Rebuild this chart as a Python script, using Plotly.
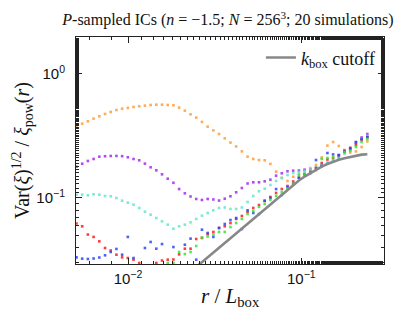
import plotly.graph_objects as go

# r / L_box grid (bin centres)
r = [0.005045, 0.005441, 0.005868, 0.006333, 0.006832, 0.007369, 0.007948, 0.008575,
     0.009250, 0.009977, 0.010761, 0.011608, 0.012521, 0.013506, 0.014568, 0.015714,
     0.016950, 0.018283, 0.019722, 0.021281, 0.022956, 0.024760, 0.026711, 0.028814,
     0.031080, 0.033520, 0.036160, 0.039010, 0.042080, 0.045390, 0.048960, 0.052820,
     0.056980, 0.061460, 0.066300, 0.071520, 0.077150, 0.083220, 0.089770, 0.096830,
     0.104450, 0.112670, 0.121540, 0.131100, 0.141420, 0.152550, 0.164550, 0.177500,
     0.191470, 0.206540, 0.222790, 0.240330]

orange = [0.375, 0.396, 0.414, 0.435, 0.454, 0.474, 0.492, 0.510, 0.523, 0.530,
          0.540, 0.547, 0.553, 0.560, 0.563, 0.563, 0.560, 0.557, 0.533, 0.504,
          0.471, 0.443, 0.409, 0.375, 0.350, 0.327, 0.302, 0.279, 0.260, 0.237,
          0.215, 0.206, 0.202, 0.201, 0.188, 0.163, 0.145, 0.137, 0.148, 0.156,
          0.165, 0.174, 0.184, 0.212, 0.264, 0.282, 0.262, 0.243, 0.232, 0.237,
          0.257, 0.285]

purple = [0.1786, 0.1887, 0.1985, 0.206, 0.215, 0.2166, 0.2178, 0.218, 0.217, 0.2126,
          0.206, 0.201, 0.189, 0.1766, 0.167, 0.155, 0.143, 0.1325, 0.118, 0.109,
          0.1028, 0.0982, 0.0964, 0.0982, 0.0973, 0.0954, 0.0987, 0.1032, 0.1111, 0.1203,
          0.1308, 0.1337, 0.1337, 0.1362, 0.1404, 0.1512, 0.158, 0.164, 0.1658, 0.1664,
          0.169, 0.1695, 0.174, 0.181, 0.191, 0.1985, 0.218, 0.239, 0.2526, 0.2796,
          0.3067, 0.327]

cyan = [0.1063, 0.1063, 0.1051, 0.1071, 0.1063, 0.1037, 0.1032, 0.100, 0.0951, 0.0917,
        0.0883, 0.0831, 0.0776, 0.0734, 0.0690, 0.0649, 0.0610, 0.0566, 0.0592, 0.0610,
        0.0637, 0.0678, 0.0721, 0.0757, 0.0796, 0.0831, 0.0839, 0.0816, 0.0816, 0.0839,
        0.0929, 0.1037, 0.1132, 0.1188, 0.1272, 0.137, 0.145, 0.1531, 0.159, 0.162,
        0.165, 0.1695, 0.1776, 0.184, 0.193, 0.202, 0.212, 0.226, 0.243, 0.264,
        0.298, 0.315]

red = [0.0623, 0.0592, 0.0508, 0.0486, 0.0448, 0.0396, 0.0378, 0.0350, 0.0333, 0.0329,
       0.0319, 0.0300, None, None, 0.0300, 0.0314, 0.0319, 0.0320, 0.0352, 0.0391,
       0.0391, 0.0468, 0.0477, 0.0513, 0.0533, 0.0574, 0.0592, 0.0629, 0.0678, 0.0716,
       0.0772, 0.0831, 0.0878, 0.0946, 0.1019, 0.1097, 0.1181, 0.1249, 0.1357, 0.1462,
       0.1545, 0.162, 0.174, 0.191, 0.204, 0.210, 0.222, 0.239, 0.2526, 0.2694,
       0.293, 0.3095]

blue = [0.0333, 0.0325, 0.0323, 0.0326, 0.0332, 0.0346, 0.0368, 0.0389, 0.0350, 0.0486,
        0.0329, None, 0.0396, 0.0443, 0.0391, 0.0426, None, 0.0403, None, 0.0421,
        0.0471, 0.0319, 0.0556, 0.0523, 0.0486, 0.0574, 0.0618, 0.0665, 0.069, 0.0563,
        0.0796, 0.0757, 0.0743, 0.0951, 0.100, 0.118, 0.1057, 0.122, 0.1296, 0.145,
        0.156, 0.159, 0.202, 0.181, 0.230, 0.224, 0.2206, 0.2345, 0.248, 0.282,
        0.298, 0.308]

green = [None, None, None, None, None, None, None, None, None, None,
         None, None, None, None, None, None, 0.0300, 0.0300, 0.0368, 0.0354,
         0.0368, 0.0411, 0.0481, 0.0490, 0.0508, 0.0533, 0.0533, 0.0584, 0.0629, 0.0678,
         0.0743, 0.0786, 0.0847, 0.0895, 0.0964, 0.1037, 0.1117, 0.1192, 0.1296, 0.1523,
         0.156, 0.1589, 0.168, 0.206, 0.210, 0.212, 0.208, 0.2345, 0.239, 0.257,
         0.282, 0.298]

# k_box cutoff curve, sampled on the same grid from r[21] onwards
r_cut = r[21:]
kbox_cut = [0.02786, 0.03056, 0.0333, 0.0364, 0.0398, 0.0435, 0.0475, 0.0519, 0.0567,
            0.0620, 0.0678, 0.0739, 0.0808, 0.0882, 0.0964, 0.1057, 0.1160, 0.1272,
            0.1382, 0.1489, 0.1589, 0.1689, 0.1786, 0.1877, 0.1956, 0.2029, 0.2090,
            0.2145, 0.2194, 0.2231, 0.2251]

x_tickvals = [0.01, 0.1]
x_ticktext = ["10<sup>−2</sup>", "10<sup>−1</sup>"]
y_tickvals = [0.1, 1]
y_ticktext = ["10<sup>−1</sup>", "10<sup>0</sup>"]

series = [
    ("orange", orange, "#ff9c3c"),
    ("purple", purple, "#a52cf0"),
    ("cyan", cyan, "#5fe8cc"),
    ("red", red, "#ff1a1a"),
    ("blue", blue, "#2a46ff"),
    ("green", green, "#33e633"),
]

fig = go.Figure()
for name, vals, col in series:
    fig.add_trace(go.Scatter(x=r, y=vals, mode="markers", name=name, showlegend=False,
                             marker=dict(symbol="square", size=2.6, color=col,
                                         opacity=0.85, line=dict(width=0))))

fig.add_trace(go.Scatter(x=r_cut, y=kbox_cut, mode="lines",
                         name="<i>k</i><sub>box</sub> cutoff",
                         line=dict(color="#888888", width=2.6), showlegend=True))

serif = "Liberation Serif"
sans = "Liberation Sans"

axis_common = dict(
    type="log", showgrid=False, zeroline=False,
    showline=True, linecolor="#222222", linewidth=1, mirror="allticks",
    ticks="inside", ticklen=6, tickwidth=1, tickcolor="#222222",
    tickfont=dict(family=sans, size=15, color="#111111"),
    minor=dict(ticks="inside", ticklen=3, tickwidth=1, tickcolor="#222222",
               showgrid=False),
)

fig.update_layout(
    width=415, height=313,
    margin=dict(l=68, r=39, t=29, b=57),
    paper_bgcolor="white", plot_bgcolor="white",
    title=dict(text="<i>P</i>-sampled ICs (<i>n</i> = −1.5; <i>N</i> = 256<sup>3</sup>; 20 simulations)",
               font=dict(family=serif, size=16, color="#111111"),
               x=0.53, xanchor="center", y=0.962, yanchor="middle"),
    xaxis=dict(axis_common, range=[-2.300, -0.523],
               tickvals=x_tickvals, ticktext=x_ticktext, ticklabelstandoff=1),
    yaxis=dict(axis_common, range=[-1.531, 0.295],
               tickvals=y_tickvals, ticktext=y_ticktext, ticklabelstandoff=7,
               title=dict(text="Var(<i>ξ</i>)<sup>1/2</sup> / <i>ξ</i><sub>pow</sub>(<i>r</i>)",
                          font=dict(family=serif, size=20, color="#111111"), standoff=0)),
    legend=dict(x=0.99, y=0.99, xanchor="right", yanchor="top",
                bgcolor="rgba(0,0,0,0)", borderwidth=0,
                font=dict(family=serif, size=18, color="#111111")),
    annotations=[dict(text="<i>r</i> / <i>L</i><sub>box</sub>", xref="paper", yref="paper",
                      x=0.50, y=-0.145, xanchor="center", yanchor="middle", showarrow=False,
                      font=dict(family=serif, size=21, color="#111111"))],
)

fig.write_html("out.html")
